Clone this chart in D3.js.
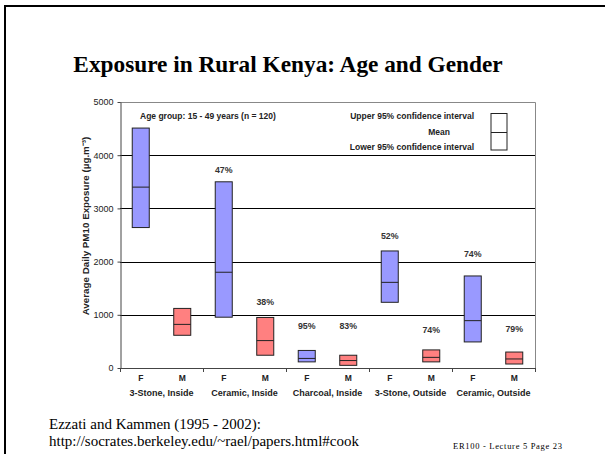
<!DOCTYPE html>
<html>
<head>
<meta charset="utf-8">
<script src="https://cdn.jsdelivr.net/npm/d3@7"></script>
<style>
  body { margin: 0; background: #fff; }
  svg { display: block; }
</style>
</head>
<body>
<div id="chart"></div>
<script>
// stove groups and the sex of each box
const groups = ["3-Stone, Inside", "Ceramic, Inside", "Charcoal, Inside", "3-Stone, Outside", "Ceramic, Outside"];
const sexes = ["F", "M"];

// PM10 exposure (ug/m3), one value per box, in order F,M per group
const upper = [4510, 1120, 3500, 950, 330, 240, 2200, 340, 1730, 300];
const mean  = [3400, 820, 1800, 515, 180, 140, 1610, 200, 890, 170];
const lower = [2640, 615, 955, 240, 115, 50, 1235, 115, 490, 75];

// reduction labels and the value level where each one sits
const pctLabel = ["", "", "47%", "38%", "95%", "83%", "52%", "74%", "74%", "79%"];
const pctAt    = [0, 0, 3720, 1240, 790, 790, 2480, 715, 2140, 735];

const yTicks = [0, 1000, 2000, 3000, 4000, 5000];

const width = 605, height = 454;
const plot = { left: 120, right: 535, top: 102, bottom: 368 };

const boxes = groups.flatMap((g, gi) => sexes.map((s, si) => {
    const i = gi * 2 + si;
    return { key: i, group: g, sex: s, upper: upper[i], mean: mean[i], lower: lower[i], pct: pctLabel[i], pctAt: pctAt[i] };
}));

const x = d3.scaleBand()
    .domain(boxes.map(d => d.key))
    .range([plot.left, plot.right])
    .paddingInner(0.59)
    .paddingOuter(0.295);

const xGroup = d3.scaleBand()
    .domain(groups)
    .range([plot.left, plot.right]);

const y = d3.scaleLinear()
    .domain([0, 5000])
    .range([plot.bottom, plot.top]);

const svg = d3.select("#chart").append("svg")
    .attr("width", width)
    .attr("height", height);

// slide frame
svg.append("line").attr("x1", 5).attr("x2", width).attr("y1", 6).attr("y2", 6)
    .attr("stroke", "#000").attr("stroke-width", 2);
svg.append("line").attr("x1", 5).attr("x2", 5).attr("y1", 5).attr("y2", height)
    .attr("stroke", "#000").attr("stroke-width", 2);

svg.append("text")
    .attr("x", 288).attr("y", 72)
    .attr("text-anchor", "middle")
    .attr("font-family", "Liberation Serif, Times New Roman, serif")
    .attr("font-weight", "bold")
    .attr("font-size", 23.3)
    .text("Exposure in Rural Kenya: Age and Gender");

const sans = "Liberation Sans, Arial, sans-serif";

// gridlines
svg.append("g")
    .selectAll("line")
    .data(yTicks.filter(t => t > 0 && t < 5000))
    .join("line")
    .attr("x1", plot.left).attr("x2", plot.right)
    .attr("y1", d => Math.round(y(d)) + 0.5).attr("y2", d => Math.round(y(d)) + 0.5)
    .attr("stroke", "#000");

// top and right border of plot area
svg.append("path")
    .attr("d", `M${plot.left},${plot.top + 0.5}H${plot.right + 0.5}V${plot.bottom}`)
    .attr("fill", "none")
    .attr("stroke", "#888");

// y axis
const yAxis = svg.append("g")
    .attr("transform", `translate(${plot.left + 0.5},0)`)
    .call(d3.axisLeft(y).tickValues(yTicks).tickSize(3).tickSizeOuter(0).tickFormat(d3.format("d")));
yAxis.select(".domain").attr("stroke", "#444");
yAxis.selectAll(".tick line").attr("stroke", "#444");
yAxis.selectAll("text").attr("font-family", sans).attr("font-size", 9).attr("fill", "#222").attr("dx", -1);

// x axis: ticks at group boundaries
svg.append("line")
    .attr("x1", plot.left).attr("x2", plot.right + 0.5)
    .attr("y1", plot.bottom + 0.5).attr("y2", plot.bottom + 0.5)
    .attr("stroke", "#444");
svg.append("g")
    .selectAll("line")
    .data([...groups.map(g => xGroup(g)), plot.right])
    .join("line")
    .attr("x1", d => Math.round(d) + 0.5).attr("x2", d => Math.round(d) + 0.5)
    .attr("y1", plot.bottom).attr("y2", plot.bottom + 4)
    .attr("stroke", "#444");

svg.append("g")
    .selectAll("text")
    .data(boxes)
    .join("text")
    .attr("x", d => x(d.key) + x.bandwidth() / 2)
    .attr("y", plot.bottom + 13)
    .attr("text-anchor", "middle")
    .attr("font-family", sans).attr("font-weight", "bold").attr("font-size", 8.5)
    .attr("fill", "#222")
    .text(d => d.sex);

svg.append("g")
    .selectAll("text")
    .data(groups)
    .join("text")
    .attr("x", d => xGroup(d) + xGroup.bandwidth() / 2)
    .attr("y", plot.bottom + 28)
    .attr("text-anchor", "middle")
    .attr("font-family", sans).attr("font-weight", "bold").attr("font-size", 9)
    .attr("fill", "#222")
    .text(d => d);

// y axis title
svg.append("text")
    .attr("transform", `translate(89,226) rotate(-90)`)
    .attr("text-anchor", "middle")
    .attr("font-family", sans).attr("font-weight", "bold").attr("font-size", 9.8)
    .attr("fill", "#222")
    .text("Average Daily PM10 Exposure (µg.m⁻³)");

// boxes
const box = svg.append("g")
    .selectAll("g")
    .data(boxes)
    .join("g");

box.append("rect")
    .attr("x", d => x(d.key))
    .attr("width", x.bandwidth())
    .attr("y", d => y(d.upper))
    .attr("height", d => y(d.lower) - y(d.upper))
    .attr("fill", d => d.sex === "F" ? "#9999ff" : "#ff8080")
    .attr("stroke", "#222")
    .attr("stroke-width", 1);

box.append("line")
    .attr("x1", d => x(d.key)).attr("x2", d => x(d.key) + x.bandwidth())
    .attr("y1", d => y(d.mean)).attr("y2", d => y(d.mean))
    .attr("stroke", "#222");

box.filter(d => d.pct)
    .append("text")
    .attr("x", d => x(d.key) + x.bandwidth() / 2)
    .attr("y", d => y(d.pctAt))
    .attr("dy", "0.35em")
    .attr("text-anchor", "middle")
    .attr("font-family", sans).attr("font-weight", "bold").attr("font-size", 8.8)
    .attr("fill", "#333")
    .text(d => d.pct);

// annotations inside the plot
svg.append("text")
    .attr("x", 140).attr("y", 116).attr("dy", "0.35em")
    .attr("font-family", sans).attr("font-weight", "bold").attr("font-size", 8.5)
    .attr("fill", "#222")
    .text("Age group: 15 - 49 years (n = 120)");

const legendRows = [
    { text: "Upper 95% confidence interval", x: 474, y: 116 },
    { text: "Mean", x: 450, y: 132 },
    { text: "Lower 95% confidence interval", x: 474, y: 147 }
];
svg.append("g")
    .selectAll("text")
    .data(legendRows)
    .join("text")
    .attr("x", d => d.x).attr("y", d => d.y).attr("dy", "0.35em")
    .attr("text-anchor", "end")
    .attr("font-family", sans).attr("font-weight", "bold").attr("font-size", 8.5)
    .attr("fill", "#222")
    .text(d => d.text);

svg.append("rect")
    .attr("x", 491).attr("y", 113.5).attr("width", 16).attr("height", 36.5)
    .attr("fill", "#fff").attr("stroke", "#222");
svg.append("line")
    .attr("x1", 491).attr("x2", 507).attr("y1", 132.5).attr("y2", 132.5)
    .attr("stroke", "#222");

// footer
const serif = "Liberation Serif, Times New Roman, serif";
svg.append("text")
    .attr("x", 49).attr("y", 429)
    .attr("font-family", serif).attr("font-size", 15)
    .text("Ezzati and Kammen (1995 - 2002):");
svg.append("text")
    .attr("x", 49).attr("y", 446)
    .attr("font-family", serif).attr("font-size", 15)
    .text("http://socrates.berkeley.edu/~rael/papers.html#cook");
svg.append("text")
    .attr("x", 453).attr("y", 449)
    .attr("font-family", serif).attr("font-size", 8.5)
    .attr("textLength", 109)
    .attr("lengthAdjust", "spacing")
    .text("ER100 - Lecture 5 Page 23");
</script>
</body>
</html>
